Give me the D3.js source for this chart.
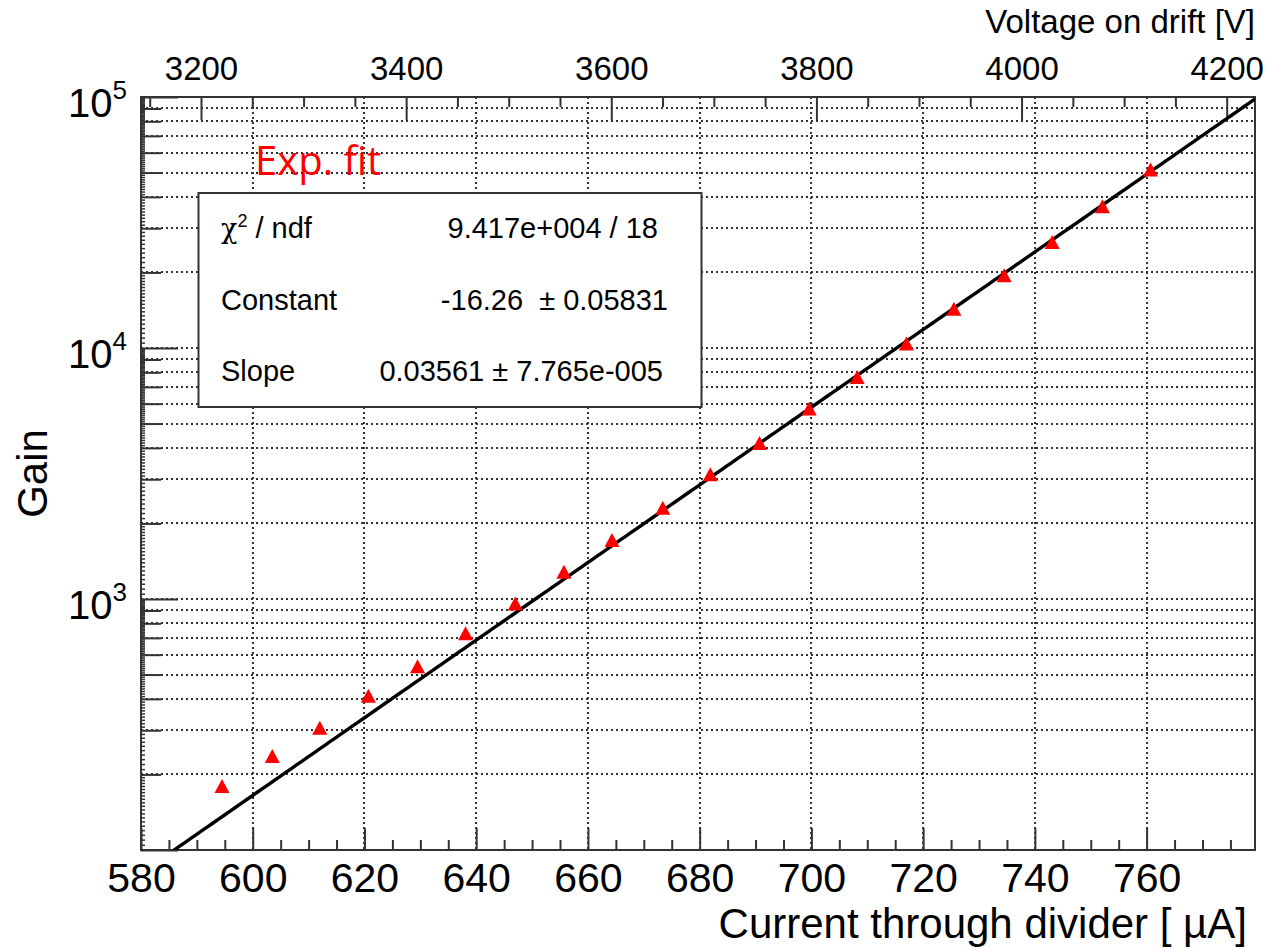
<!DOCTYPE html>
<html><head><meta charset="utf-8">
<script src="https://cdn.jsdelivr.net/npm/d3@7"></script>
<style>
html,body{margin:0;padding:0;background:#fff;}
svg{display:block;font-family:"Liberation Sans",Arial,Helvetica,sans-serif;}
text{white-space:pre;}
</style></head><body>
<svg id="chart" width="1268" height="949"></svg>
<script>
// ---- data ----
const currents = [594.5, 603.5, 612.0, 620.7, 629.5, 638.1, 647.0, 655.7, 664.3, 673.4, 681.9, 690.7, 699.6, 708.2, 717.0, 725.5, 734.5, 743.1, 752.1, 760.7];
const gains    = [180, 237, 307, 412, 540, 730, 960, 1283, 1717, 2308, 3144, 4188, 5741, 7672, 10420, 14350, 19480, 26450, 36700, 51400];
const fitConstant = -16.26;
const fitSlope = 0.03561;
const xTickValues = [580, 600, 620, 640, 660, 680, 700, 720, 740, 760];
const voltageTickValues = [3200, 3400, 3600, 3800, 4000, 4200];
const yLabelExponents = [3, 4, 5];
const statsNames = ["χ", "Constant", "Slope"];
const statsValues = ["9.417e+004 / 18", "-16.26  ± 0.05831", "0.03561 ± 7.765e-005"];
const xTitle = "Current through divider [ µA]";
const yTitle = "Gain";
const topTitle = "Voltage on drift [V]";
const fitLabel = "Exp. fit";

// ---- layout ----
const L = 141, R = 1255, T = 97, B = 850;
const svg = d3.select("#chart");
const x = d3.scaleLinear().domain([580, 779.4]).range([L, R]);
const xTop = d3.scaleLinear().domain([3141.5, 4227.6]).range([L, R]);
const y = d3.scaleLog().domain([100, 1e5]).range([B, T]);

const axisColor = "#333";

// grid
const yGrid = [];
for (let e = 2; e < 5; e++) for (let m = 1; m < 10; m++) { const v = m * Math.pow(10, e); if (v > 100 && v < 1e5) yGrid.push(v); }
const grid = svg.append("g").attr("stroke", "#333").attr("stroke-width", 2).attr("stroke-dasharray", "2,3").attr("fill", "none");
grid.selectAll("line.h").data(yGrid).join("line").attr("class", "h")
  .attr("x1", L).attr("x2", R).attr("y1", d => Math.round(y(d))).attr("y2", d => Math.round(y(d)));
grid.selectAll("line.v").data(xTickValues.filter(v => v > 580)).join("line").attr("class", "v")
  .attr("y1", T).attr("y2", B).attr("x1", d => Math.round(x(d))).attr("x2", d => Math.round(x(d)));

function styleAxis(g) {
  g.select(".domain").remove();
  g.selectAll(".tick line").attr("stroke", axisColor).attr("stroke-width", 2);
  g.selectAll(".tick text").attr("fill", "#000");
}

// bottom axis
const xMinor = d3.range(580, 780, 5).filter(v => v % 20 !== 0);
svg.append("g").attr("transform", `translate(0,${B})`)
  .call(d3.axisBottom(x).tickValues(xMinor).tickSize(-10).tickFormat(""))
  .call(styleAxis);
svg.append("g").attr("transform", `translate(0,${B})`)
  .call(d3.axisBottom(x).tickValues(xTickValues).tickSize(-22).tickPadding(13).tickFormat(d3.format("d")))
  .call(styleAxis)
  .call(g => g.selectAll(".tick text").attr("font-size", 41).attr("font-family", "Liberation Sans, Arial, sans-serif"));

// top axis
const vMinor = d3.range(3150, 4227, 50).filter(v => v % 200 !== 0);
svg.append("g").attr("transform", `translate(0,${T})`)
  .call(d3.axisTop(xTop).tickValues(vMinor).tickSize(-10).tickFormat(""))
  .call(styleAxis);
svg.append("g").attr("transform", `translate(0,${T})`)
  .call(d3.axisTop(xTop).tickValues(voltageTickValues).tickSize(-23).tickPadding(17).tickFormat(d3.format("d")))
  .call(styleAxis)
  .call(g => g.selectAll(".tick text").attr("font-size", 33).attr("font-family", "Liberation Sans, Arial, sans-serif"));

// left axis
const yMinor = [], yTiny = [];
for (let e = 2; e < 5; e++) {
  for (let m = 2; m < 10; m++) yMinor.push(m * Math.pow(10, e));
  for (let m = 1.05; m < 9.99; m += (m < 2 ? 0.05 : 0.1)) {
    const mm = Math.round(m * 100) / 100;
    if (Math.abs(mm - Math.round(mm)) > 1e-6) yTiny.push(mm * Math.pow(10, e));
  }
}
svg.append("g").attr("transform", `translate(${L},0)`)
  .call(d3.axisLeft(y).tickValues(yTiny).tickSize(-4).tickFormat(""))
  .call(styleAxis).call(g => g.selectAll(".tick line").attr("stroke-width", 1.5));
svg.append("g").attr("transform", `translate(${L},0)`)
  .call(d3.axisLeft(y).tickValues(yMinor).tickSize(-20).tickFormat(""))
  .call(styleAxis);
const yMajorAxis = svg.append("g").attr("transform", `translate(${L},0)`)
  .call(d3.axisLeft(y).tickValues([1e2, 1e3, 1e4, 1e5]).tickSize(-37).tickFormat(""))
  .call(styleAxis);
yMajorAxis.selectAll(".tick").each(function(d) {
  const e = Math.round(Math.log10(d));
  if (!yLabelExponents.includes(e)) return;
  const t = d3.select(this).append("text").attr("x", -14).attr("y", 19)
    .attr("text-anchor", "end").attr("fill", "#000").attr("font-size", 40)
    .attr("font-family", "Liberation Sans, Arial, sans-serif");
  t.append("tspan").text("10");
  t.append("tspan").attr("dy", -18).attr("font-size", 26).text(String(e));
});

// frame
svg.append("rect").attr("x", L).attr("y", T).attr("width", R - L).attr("height", B - T)
  .attr("fill", "none").attr("stroke", axisColor).attr("stroke-width", 2);

// stats box
const box = svg.append("g");
box.append("rect").attr("x", 198.5).attr("y", 193).attr("width", 503).attr("height", 214)
  .attr("fill", "#fff").attr("stroke", axisColor).attr("stroke-width", 2);
const rowBase = [237.5, 309.5, 380.5];
const rowEnd = [658, 668, 663];
statsNames.forEach((n, i) => {
  const t = box.append("text").attr("x", 221).attr("y", rowBase[i]).attr("font-size", 29).attr("fill", "#000");
  if (i === 0) {
    t.append("tspan").attr("font-family", "DejaVu Serif, serif").attr("font-size", 27).text(n);
    t.append("tspan").attr("dy", -11).attr("font-size", 18).text("2");
    t.append("tspan").attr("dy", 11).text(" / ndf");
  } else t.text(n);
});
statsValues.forEach((v, i) => {
  box.append("text").attr("x", rowEnd[i]).attr("y", rowBase[i]).attr("text-anchor", "end")
    .attr("font-size", 29).attr("fill", "#000").text(v);
});

// fit line
svg.append("clipPath").attr("id", "clip").append("rect").attr("x", L).attr("y", T).attr("width", R - L).attr("height", B - T);
const fx = d3.range(0, 201).map(i => 580 + (779.4 - 580) * i / 200);
const fitPts = fx.map(c => [c, Math.exp(fitConstant + fitSlope * c)]).filter(p => p[1] > 60);
svg.append("path").attr("clip-path", "url(#clip)")
  .attr("d", d3.line().x(p => x(p[0])).y(p => y(Math.max(p[1], 50)))(fitPts))
  .attr("fill", "none").attr("stroke", "#000").attr("stroke-width", 3.4);

// markers
svg.append("g").selectAll("path").data(currents.map((c, i) => [c, gains[i]])).join("path")
  .attr("d", d => { const cx = x(d[0]), cy = y(d[1]); return `M${cx - 7.5},${cy + 7}L${cx + 7.5},${cy + 7}L${cx},${cy - 7}Z`; })
  .attr("fill", "#ff0000");

// fit label
svg.append("text").attr("x", 255).attr("y", 175).attr("font-family", "Open Sans, sans-serif")
  .attr("font-size", 40).attr("fill", "#ff0000").text(fitLabel);

// titles
svg.append("text").attr("x", 1247).attr("y", 938).attr("text-anchor", "end").attr("font-size", 42).attr("fill", "#000").text(xTitle);
svg.append("text").attr("x", 1255).attr("y", 33).attr("text-anchor", "end").attr("font-size", 33).attr("fill", "#000").text(topTitle);
svg.append("text").attr("transform", `translate(47,${(T + B) / 2}) rotate(-90)`).attr("text-anchor", "middle")
  .attr("font-size", 42).attr("fill", "#000").text(yTitle);
</script>
</body></html>
